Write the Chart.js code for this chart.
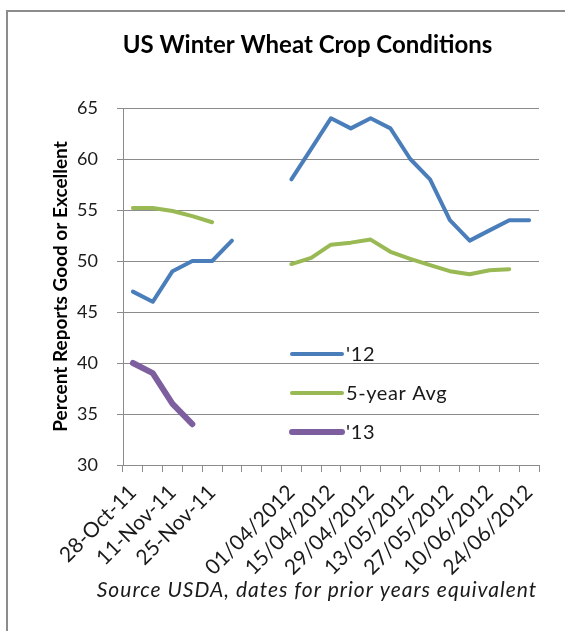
<!DOCTYPE html>
<html>
<head>
<meta charset="utf-8">
<script src="https://cdn.jsdelivr.net/npm/chart.js@4.4.0/dist/chart.umd.min.js"></script>
<style>
    html, body { margin: 0; background: #fff; overflow: hidden; width: 565px; height: 631px; }
    #frame { position: absolute; left: 6px; top: 10px; width: 700px; height: 700px;
             border-top: 2px solid #8c8c8c; border-left: 2px solid #8c8c8c; }
    #wheatChart { position: absolute; left: 0; top: 0; }
</style>
</head>
<body>
<div id="frame"></div>
<canvas id="wheatChart" width="565" height="631"></canvas>
<script>
// weekly report dates (only every other one gets a label on the axis)
const weekLabels = [
    '28-Oct-11', '04-Nov-11', '11-Nov-11', '18-Nov-11', '25-Nov-11', '02-Dec-11', '', '25/03/2012',
    '01/04/2012', '08/04/2012', '15/04/2012', '22/04/2012', '29/04/2012', '06/05/2012',
    '13/05/2012', '20/05/2012', '27/05/2012', '03/06/2012', '10/06/2012', '17/06/2012', '24/06/2012'
];

const crop2012 = [47, 46, 49, 50, 50, 52, null, null,
    58, 61, 64, 63, 64, 63, 60, 58, 54, 52, 53, 54, 54];

const avgFiveYear = [55.2, 55.2, 54.9, 54.4, 53.8, null, null, null,
    49.7, 50.3, 51.6, 51.8, 52.1, 50.9, 50.2, 49.6, 49.0, 48.7, 49.1, 49.2, null];

const crop2013 = [40, 39, 36, 34, null, null, null, null,
    null, null, null, null, null, null, null, null, null, null, null, null, null];

const yTicks = [30, 35, 40, 45, 50, 55, 60, 65];

const chartTitle = 'US Winter Wheat Crop Conditions';
const sourceNote = 'Source USDA, dates for prior years equivalent';
const yTitle = 'Percent Reports Good or Excellent';

const FONT = 'Lato, "Open Sans", sans-serif';
const TEXT = '#1a1a1a';
const GRID = '#8c8c8c';

// legend sits inside the plot, drawn by hand like the excel one
const insideLegend = {
    id: 'insideLegend',
    afterDatasetsDraw(chart) {
        const ctx = chart.ctx;
        const rows = [354, 393, 432];
        ctx.save();
        chart.data.datasets.forEach((ds, i) => {
            ctx.strokeStyle = ds.borderColor;
            ctx.lineWidth = ds.borderWidth;
            ctx.lineCap = 'round';
            ctx.beginPath();
            ctx.moveTo(292, rows[i]);
            ctx.lineTo(342, rows[i]);
            ctx.stroke();
            ctx.fillStyle = TEXT;
            ctx.font = '20px ' + FONT;
            ctx.letterSpacing = '0.6px';
            ctx.textAlign = 'left';
            ctx.textBaseline = 'middle';
            ctx.fillText(ds.label, 346, rows[i] + 1);
            ctx.letterSpacing = '0px';
        });
        ctx.restore();
    }
};

// title + source line (offset from the plot centre, so not the built-in title)
const headerFooter = {
    id: 'headerFooter',
    afterDraw(chart) {
        const ctx = chart.ctx;
        ctx.save();
        ctx.fillStyle = '#000';
        ctx.textAlign = 'center';
        ctx.textBaseline = 'middle';
        ctx.font = 'bold 24px ' + FONT;
        ctx.fillText(chartTitle, 307.5, 45);
        ctx.fillStyle = TEXT;
        ctx.font = 'italic 21px ' + FONT;
        ctx.letterSpacing = '1px';
        ctx.fillText(sourceNote, 317, 590);
        ctx.letterSpacing = '0px';
        ctx.restore();
    }
};

const ctx = document.getElementById('wheatChart').getContext('2d');

const chart = new Chart(ctx, {
    type: 'line',
    data: {
        labels: weekLabels,
        datasets: [
            { label: "'12", data: crop2012, borderColor: '#4a7ebb', borderWidth: 4 },
            { label: '5-year Avg', data: avgFiveYear, borderColor: '#98b954', borderWidth: 4 },
            { label: "'13", data: crop2013, borderColor: '#7d5fa0', borderWidth: 6 }
        ]
    },
    options: {
        responsive: false,
        animation: false,
        spanGaps: false,
        elements: {
            point: { radius: 0, hoverRadius: 0 },
            line: { tension: 0, borderCapStyle: 'round', borderJoinStyle: 'round', fill: false }
        },
        layout: { padding: { left: 40, right: 26, top: 108, bottom: 26 } },
        plugins: {
            legend: { display: false },
            title: { display: false },
            tooltip: { enabled: false }
        },
        scales: {
            x: {
                offset: true,
                afterFit: (scale) => { scale.height = 140; },
                grid: { drawOnChartArea: false, drawTicks: true, tickLength: 7, offset: true, color: GRID },
                border: { color: GRID, width: 1 },
                ticks: {
                    autoSkip: false,
                    minRotation: 45,
                    maxRotation: 45,
                    padding: 8,
                    color: TEXT,
                    font: { family: FONT, size: 21 },
                    callback: (value, index) => index % 2 === 0 ? weekLabels[index] : ''
                }
            },
            y: {
                min: 30,
                max: 65,
                afterFit: (scale) => { scale.width = 83; },
                afterBuildTicks: (scale) => { scale.ticks = yTicks.map(v => ({ value: v })); },
                grid: { color: GRID, tickLength: 6 },
                border: { color: GRID, width: 1 },
                ticks: { padding: 19, color: TEXT, font: { family: FONT, size: 18 } },
                title: {
                    display: true,
                    text: yTitle,
                    color: '#000',
                    padding: { top: 9, bottom: 0 },
                    font: { family: FONT, size: 19, weight: 'bold' }
                }
            }
        }
    },
    plugins: [insideLegend, headerFooter]
});
</script>
</body>
</html>
